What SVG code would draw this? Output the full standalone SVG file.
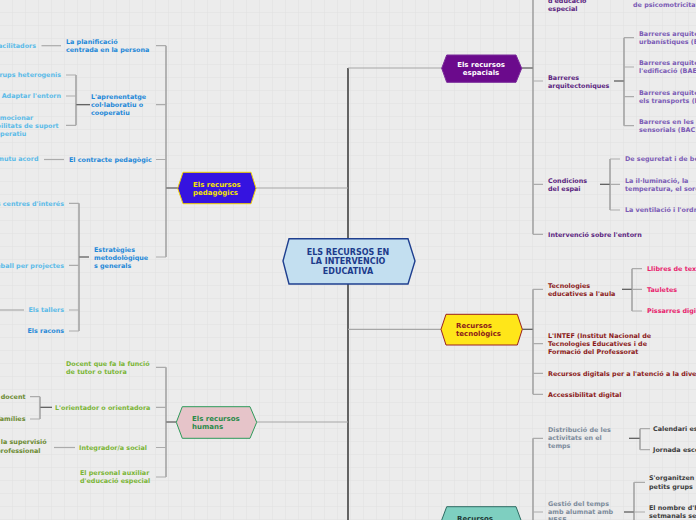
<svg xmlns="http://www.w3.org/2000/svg" width="696" height="520" viewBox="0 0 696 520">
<defs>
<pattern id="grid" width="13" height="13" patternUnits="userSpaceOnUse">
<path d="M13 0V13M0 13H13" fill="none" stroke="#e1e1e1" stroke-width="1"/>
</pattern>
</defs>
<style>
text{font-family:"DejaVu Sans","Verdana",sans-serif;font-weight:bold;font-size:6.4px}
.n{font-size:7px}
.c{font-size:8px;fill:#1d3b8b;text-anchor:middle}
.e{text-anchor:end}
.tr{fill:none;stroke:#555;stroke-width:1.8}
.mc{fill:none;stroke:#a6a6a6;stroke-width:1.2}
.st{fill:none;stroke:#555;stroke-width:1.2}
.br{fill:none;stroke:#8c8c8c;stroke-width:1.2}
.lf{fill:none;stroke:#ababab;stroke-width:1.2}
.pb{fill:#1e88d8}.pl{fill:#5bbbe8}
.hb{fill:#7ab535}.hl{fill:#6b8a30}
.sb{fill:#5b2580}.sl{fill:#7b5bb5}
.tb{fill:#8b1a1a}.tl{fill:#e8246e}
.gb{fill:#7d8b9b}.gl{fill:#3c3c3c}
</style>
<rect width="696" height="520" fill="#ececec"/>
<rect width="696" height="520" fill="url(#grid)"/>

<g id="connectors">
<path class="tr" d="M348 68V520"/>
<path class="mc" d="M348 68H442M348 188H256M348 329.3H441M348 422H256.7"/>
<!-- pedagogics -->
<path class="st" d="M166 188H178"/>
<path class="br" d="M166 45.7V257"/>
<path class="lf" d="M156 45.7H166M156 104.7H166M156 159.5H166M156 257H166"/>
<path class="lf" d="M41.5 45.7H61"/>
<path class="st" d="M76 104.7H90"/>
<path class="br" d="M76 75V125.3"/>
<path class="lf" d="M66 75H76M66 96H76M66 125.3H76"/>
<path class="lf" d="M44 159.5H64"/>
<path class="st" d="M79 257H89"/>
<path class="br" d="M79 203.3V331"/>
<path class="lf" d="M69 203.3H79M69 265.3H79M69 310H79M69 331H79"/>
<path class="lf" d="M0 310H24"/>
<!-- humans -->
<path class="st" d="M166 422H176.3"/>
<path class="br" d="M166 367.3V477"/>
<path class="lf" d="M156 367.3H166M156 407.3H166M156 447.5H166M156 477H166"/>
<path class="st" d="M40 407.3H52"/>
<path class="br" d="M40 396.7V419"/>
<path class="lf" d="M30 396.7H40M30 419H40"/>
<path class="lf" d="M54 447.5H75"/>
<!-- espacials -->
<path class="st" d="M521.7 68H533"/>
<path class="br" d="M533 0V234.3"/>
<path class="lf" d="M533 81H543M533 184.3H543M533 234.3H543"/>
<path class="st" d="M614 81H624"/>
<path class="br" d="M624 37.7V125.7"/>
<path class="lf" d="M624 37.7H634M624 67H634M624 96.7H634M624 125.7H634"/>
<path class="st" d="M600 184.3H610"/>
<path class="br" d="M610 159V210"/>
<path class="lf" d="M610 159H620M610 184.3H620M610 210H620"/>
<!-- tecnologics -->
<path class="st" d="M522.3 329.3H533"/>
<path class="br" d="M533 289.3V394.3"/>
<path class="lf" d="M533 289.3H543M533 343.7H543M533 373.3H543M533 394.3H543"/>
<path class="st" d="M622 289.3H632"/>
<path class="br" d="M632 268.7V311"/>
<path class="lf" d="M632 268.7H642M632 289.3H642M632 311H642"/>
<!-- temporals -->
<path class="br" d="M533 438.3V520"/>
<path class="lf" d="M533 438.3H543M533 512H543"/>
<path class="st" d="M629 438.3H640"/>
<path class="br" d="M640 428.7V449.7"/>
<path class="lf" d="M640 428.7H650M640 449.7H650"/>
<path class="st" d="M624 512H634"/>
<path class="br" d="M634 482.3V520"/>
<path class="lf" d="M634 482.3H645M634 512H645"/>
</g>

<g id="center">
<polygon points="283,261 289,238.7 408,238.7 415,261 408,284 289,284" fill="#c3dff0" stroke="#1f3f8f" stroke-width="1.4"/>
<text class="c" x="348" y="254.5">ELS RECURSOS EN</text>
<text class="c" x="348" y="264">LA INTERVENCIO</text>
<text class="c" x="348" y="273.5">EDUCATIVA</text>
</g>

<g id="pedagogics">
<polygon points="177.7,188.3 183,172.3 251,172.3 256,188.3 251,203.7 183,203.7" fill="#3513e0" stroke="#f2d200" stroke-width="1"/>
<text class="n" x="193" y="186.5" fill="#f5e400">Els recursos</text>
<text class="n" x="193" y="195" fill="#f5e400">pedagògics</text>
</g>
<g id="ped-children">
<text class="pb" x="66" y="43.6">La planificació</text>
<text class="pb" x="66" y="51.6">centrada en la persona</text>
<text class="pb" x="91" y="99">L'aprenentatge</text>
<text class="pb" x="91" y="107">col·laboratiu o</text>
<text class="pb" x="91" y="115">cooperatiu</text>
<text class="pb" x="69" y="161.9">El contracte pedagògic</text>
<text class="pb" x="94" y="251.6">Estratègies</text>
<text class="pb" x="94" y="259.6">metodològique</text>
<text class="pb" x="94" y="267.6">s generals</text>
<text class="pl e" x="36" y="47.7">facilitadors</text>
<text class="pl e" x="61" y="77.3">Grups heterogenis</text>
<text class="pl e" x="61" y="98.3">Adaptar l'entorn</text>
<text class="pl" x="-12.5" y="119.6">Promocionar</text>
<text class="pl" x="-12.5" y="127.6">habilitats de suport</text>
<text class="pl" x="-12.5" y="135.6">cooperatiu</text>
<text class="pl e" x="38.5" y="161.3">mutu acord</text>
<text class="pl e" x="64" y="205.6">Els centres d'interés</text>
<text class="pl e" x="64" y="267.6">El treball per projectes</text>
<text class="pl e" x="64" y="312">Els tallers</text>
<text class="e" x="64" y="333" fill="#2a8ad8">Els racons</text>
</g>

<g id="humans">
<polygon points="176.3,422.3 182.3,406.7 250,406.7 256.7,422.3 250,438.3 182.3,438.3" fill="#e6c4c9" stroke="#2e9a5a" stroke-width="1"/>
<text class="n" x="192" y="420.8" fill="#2a8a4a">Els recursos</text>
<text class="n" x="192" y="428.5" fill="#2a8a4a">humans</text>
</g>
<g id="hum-children">
<text class="hb" x="66" y="366">Docent que fa la funció</text>
<text class="hb" x="66" y="374">de tutor o tutora</text>
<text class="hb" x="55" y="409.6">L'orientador o orientadora</text>
<text class="hb" x="79" y="450">Integrador/a social</text>
<text class="hb" x="80" y="475">El personal auxiliar</text>
<text class="hb" x="80" y="483">d'educació especial</text>
<text class="hl e" x="25.5" y="399">docent</text>
<text class="hl e" x="25.5" y="421.3">famílies</text>
<text class="hl e" x="46.7" y="444.3">la supervisió</text>
<text class="hl e" x="40.5" y="453">professional</text>
</g>

<g id="espacials">
<polygon points="441.7,68.3 446.7,55 516,55 521.7,68.3 516,82.3 446.7,82.3" fill="#6b0a8c" stroke="#7a2a9a" stroke-width="1"/>
<text class="n" x="481" y="66.8" fill="#ffffff" text-anchor="middle">Els recursos</text>
<text class="n" x="481" y="74.5" fill="#ffffff" text-anchor="middle">espacials</text>
</g>
<g id="esp-children">
<text class="sb" x="548" y="3">d'educació</text>
<text class="sb" x="548" y="11">especial</text>
<text class="sb" x="548" y="79.6">Barreres</text>
<text class="sb" x="548" y="87.6">arquitectoniques</text>
<text class="sb" x="548" y="183">Condicions</text>
<text class="sb" x="548" y="191">del espai</text>
<text class="sb" x="548" y="236.6">Intervenció sobre l'entorn</text>
<text class="sl" x="633" y="7">de psicomotricitat</text>
<text class="sl" x="639" y="36">Barreres arquitectòniques</text>
<text class="sl" x="639" y="44">urbanístiques (BAU)</text>
<text class="sl" x="639" y="65.3">Barreres arquitectòniques de</text>
<text class="sl" x="639" y="73.3">l'edificació (BAE)</text>
<text class="sl" x="639" y="95">Barreres arquitectòniques en</text>
<text class="sl" x="639" y="103">els transports (BAT)</text>
<text class="sl" x="639" y="124">Barreres en les comunicacions</text>
<text class="sl" x="639" y="132">sensorials (BAC)</text>
<text class="sl" x="625" y="161.3">De seguretat i de benestar</text>
<text class="sl" x="625" y="183">La il·luminació, la</text>
<text class="sl" x="625" y="191">temperatura, el soroll</text>
<text class="sl" x="625" y="212.3">La ventilació i l'ordre</text>
</g>

<g id="tecnologics">
<polygon points="441,329.3 446,314.3 517.3,314.3 522.3,329.3 517.3,345 446,345" fill="#ffe619" stroke="#9a2020" stroke-width="1"/>
<text class="n" x="456" y="327.8" fill="#8b1a1a">Recursos</text>
<text class="n" x="456" y="335.8" fill="#8b1a1a">tecnològics</text>
</g>
<g id="tec-children">
<text class="tb" x="548" y="287.6">Tecnologies</text>
<text class="tb" x="548" y="295.6">educatives a l'aula</text>
<text class="tb" x="548" y="338">L'INTEF (Institut Nacional de</text>
<text class="tb" x="548" y="346">Tecnologies Educatives i de</text>
<text class="tb" x="548" y="354">Formació del Professorat</text>
<text class="tb" x="548" y="375.6">Recursos digitals per a l'atenció a la diversitat</text>
<text class="tb" x="548" y="396.6">Accessibilitat digital</text>
<text class="tl" x="647" y="271">Llibres de text digitals</text>
<text class="tl" x="647" y="291.6">Tauletes</text>
<text class="tl" x="647" y="313.3">Pissarres digitals</text>
</g>

<g id="temporals">
<polygon points="441,522 446.7,506.7 516,506.7 521.7,522 516,537 446.7,537" fill="#7ecfc0" stroke="#2d6b62" stroke-width="1"/>
<text class="n" x="457" y="520.8" fill="#1f3a36">Recursos</text>
</g>
<g id="tem-children">
<text class="gb" x="548" y="432.3">Distribució de les</text>
<text class="gb" x="548" y="440.3">activitats en el</text>
<text class="gb" x="548" y="448.3">temps</text>
<text class="gb" x="548" y="506">Gestió del temps</text>
<text class="gb" x="548" y="514">amb alumnat amb</text>
<text class="gb" x="548" y="522">NESE</text>
<text class="gl" x="653" y="431">Calendari escolar</text>
<text class="gl" x="653" y="452">Jornada escolar</text>
<text class="gl" x="649" y="480.3">S'organitzen en</text>
<text class="gl" x="649" y="488.6">petits grups</text>
<text class="gl" x="649" y="510">El nombre d'hores</text>
<text class="gl" x="649" y="518">setmanals se</text>
</g>
</svg>
